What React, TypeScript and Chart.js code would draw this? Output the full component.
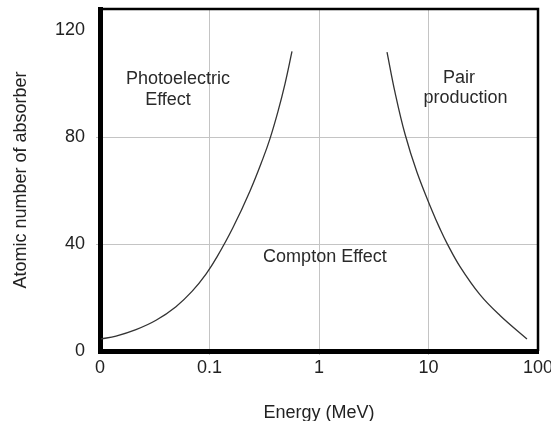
import React, { useEffect, useRef } from "react";
import { Chart, registerables } from "chart.js";

Chart.register(...registerables);

// Photoelectric / Compton boundary (energy in MeV, atomic number Z)
const photoEnergy = [0.0102, 0.014, 0.0213, 0.0325, 0.0494, 0.0692, 0.0929, 0.1171, 0.1639, 0.2344, 0.3081, 0.3569, 0.4222, 0.4892, 0.5667];
const photoZ = [4.5, 5.6, 8.0, 11.5, 16.6, 22.3, 28.8, 35.2, 46.2, 59.9, 72.1, 79.5, 89.7, 100.0, 112.1];

// Compton / Pair production boundary
const pairEnergy = [4.18, 4.94, 6.1, 7.85, 10.76, 12.74, 14.76, 19.4, 29.5, 45.0, 79.3];
const pairZ = [111.9, 96.9, 81.2, 66.9, 52.6, 45.7, 40.3, 31.6, 21.1, 13.3, 4.5];

// Axis ticks
const xTickValues = [0.01, 0.1, 1, 10, 100];
const xTickLabels = ["0", "0.1", "1", "10", "100"];
const yTickValues = [0, 40, 80, 120];
const yTickLabels = ["0", "40", "80", "120"];

// Region labels (text, energy, atomic number)
const regionTexts = ["Photoelectric", "Effect", "Pair", "production", "Compton Effect"];
const regionEnergy = [0.0515, 0.0418, 19.0, 21.8, 1.134];
const regionZ = [101.7, 93.8, 102.1, 94.6, 35.1];

const FONT = "'Liberation Sans', Arial, sans-serif";

const regionLabelPlugin = {
  id: "regionLabels",
  afterDatasetsDraw(chart: any) {
    const { ctx, scales } = chart;
    ctx.save();
    ctx.font = `18px ${FONT}`;
    ctx.fillStyle = "#2a2a2a";
    ctx.textAlign = "center";
    ctx.textBaseline = "middle";
    regionTexts.forEach((t, i) => {
      const x = scales.x.getPixelForValue(regionEnergy[i]);
      const y = scales.y.getPixelForValue(regionZ[i]);
      ctx.fillText(t, x, y);
    });
    ctx.restore();
  },
};

const frameBorderPlugin = {
  id: "frameBorder",
  afterDraw(chart: any) {
    const { ctx, chartArea } = chart;
    const { left, right, top, bottom } = chartArea;
    ctx.save();
    ctx.strokeStyle = "#000";
    ctx.lineWidth = 2.5;
    ctx.beginPath();
    ctx.moveTo(left, top);
    ctx.lineTo(right, top);
    ctx.lineTo(right, bottom);
    ctx.stroke();
    ctx.restore();
  },
};

const zeroPadding = (scale: any) => {
  scale.paddingLeft = 0;
  scale.paddingRight = 0;
  scale.paddingTop = 0;
  scale.paddingBottom = 0;
};

export default function App() {
  const canvasRef = useRef<HTMLCanvasElement | null>(null);

  useEffect(() => {
    if (!canvasRef.current) return;
    const chart = new Chart(canvasRef.current, {
      type: "line",
      data: {
        datasets: [
          {
            label: "Photoelectric",
            data: photoEnergy.map((e, i) => ({ x: e, y: photoZ[i] })),
            borderColor: "#333",
            borderWidth: 1.3,
            pointRadius: 0,
            tension: 0.4,
            fill: false,
          },
          {
            label: "Pair",
            data: pairEnergy.map((e, i) => ({ x: e, y: pairZ[i] })),
            borderColor: "#333",
            borderWidth: 1.3,
            pointRadius: 0,
            tension: 0.4,
            fill: false,
          },
        ],
      },
      options: {
        animation: false,
        responsive: false,
        layout: { padding: { top: 9, right: 13, left: 0, bottom: 0 } },
        plugins: {
          legend: { display: false },
          tooltip: { enabled: false },
        },
        scales: {
          x: {
            type: "logarithmic",
            min: 0.01,
            max: 100,
            afterBuildTicks: (scale: any) => {
              scale.ticks = xTickValues.map((v) => ({ value: v }));
            },
            afterFit: (scale: any) => {
              scale.height = 70;
              zeroPadding(scale);
            },
            ticks: {
              autoSkip: false,
              maxRotation: 0,
              padding: 2,
              color: "#222",
              font: { family: FONT, size: 18 },
              callback: (_v: any, i: number) => xTickLabels[i],
            },
            grid: {
              color: (c: any) => (c.index === 0 || c.index === 4 ? "rgba(0,0,0,0)" : "#c4c4c4"),
              lineWidth: 1,
              drawTicks: true,
              tickLength: 4,
            },
            border: { display: true, color: "#000", width: 5 },
            title: {
              display: true,
              text: "Energy (MeV)",
              color: "#222",
              font: { family: FONT, size: 18 },
              padding: { top: 0, bottom: -3 },
            },
          },
          y: {
            type: "linear",
            min: 0,
            max: 128,
            afterBuildTicks: (scale: any) => {
              scale.ticks = yTickValues.map((v) => ({ value: v }));
            },
            afterFit: (scale: any) => {
              scale.width = 100;
              zeroPadding(scale);
            },
            ticks: {
              autoSkip: false,
              padding: 11,
              color: "#222",
              font: { family: FONT, size: 18 },
              callback: (_v: any, i: number) => yTickLabels[i],
            },
            grid: {
              color: (c: any) => (c.index === 0 || c.index === 3 ? "rgba(0,0,0,0)" : "#c4c4c4"),
              lineWidth: 1,
              drawTicks: true,
              tickLength: 4,
            },
            border: { display: true, color: "#000", width: 5 },
            title: {
              display: true,
              text: "Atomic number of absorber",
              color: "#222",
              font: { family: FONT, size: 18 },
              padding: { top: 10, bottom: 0 },
            },
          },
        },
      },
      plugins: [regionLabelPlugin, frameBorderPlugin],
    } as any);
    return () => chart.destroy();
  }, []);

  return (
    <div style={{ position: "fixed", left: 0, top: 0, width: 551, height: 421, background: "#fff" }}>
      <canvas ref={canvasRef} width={551} height={421} style={{ width: 551, height: 421 }} />
    </div>
  );
}
